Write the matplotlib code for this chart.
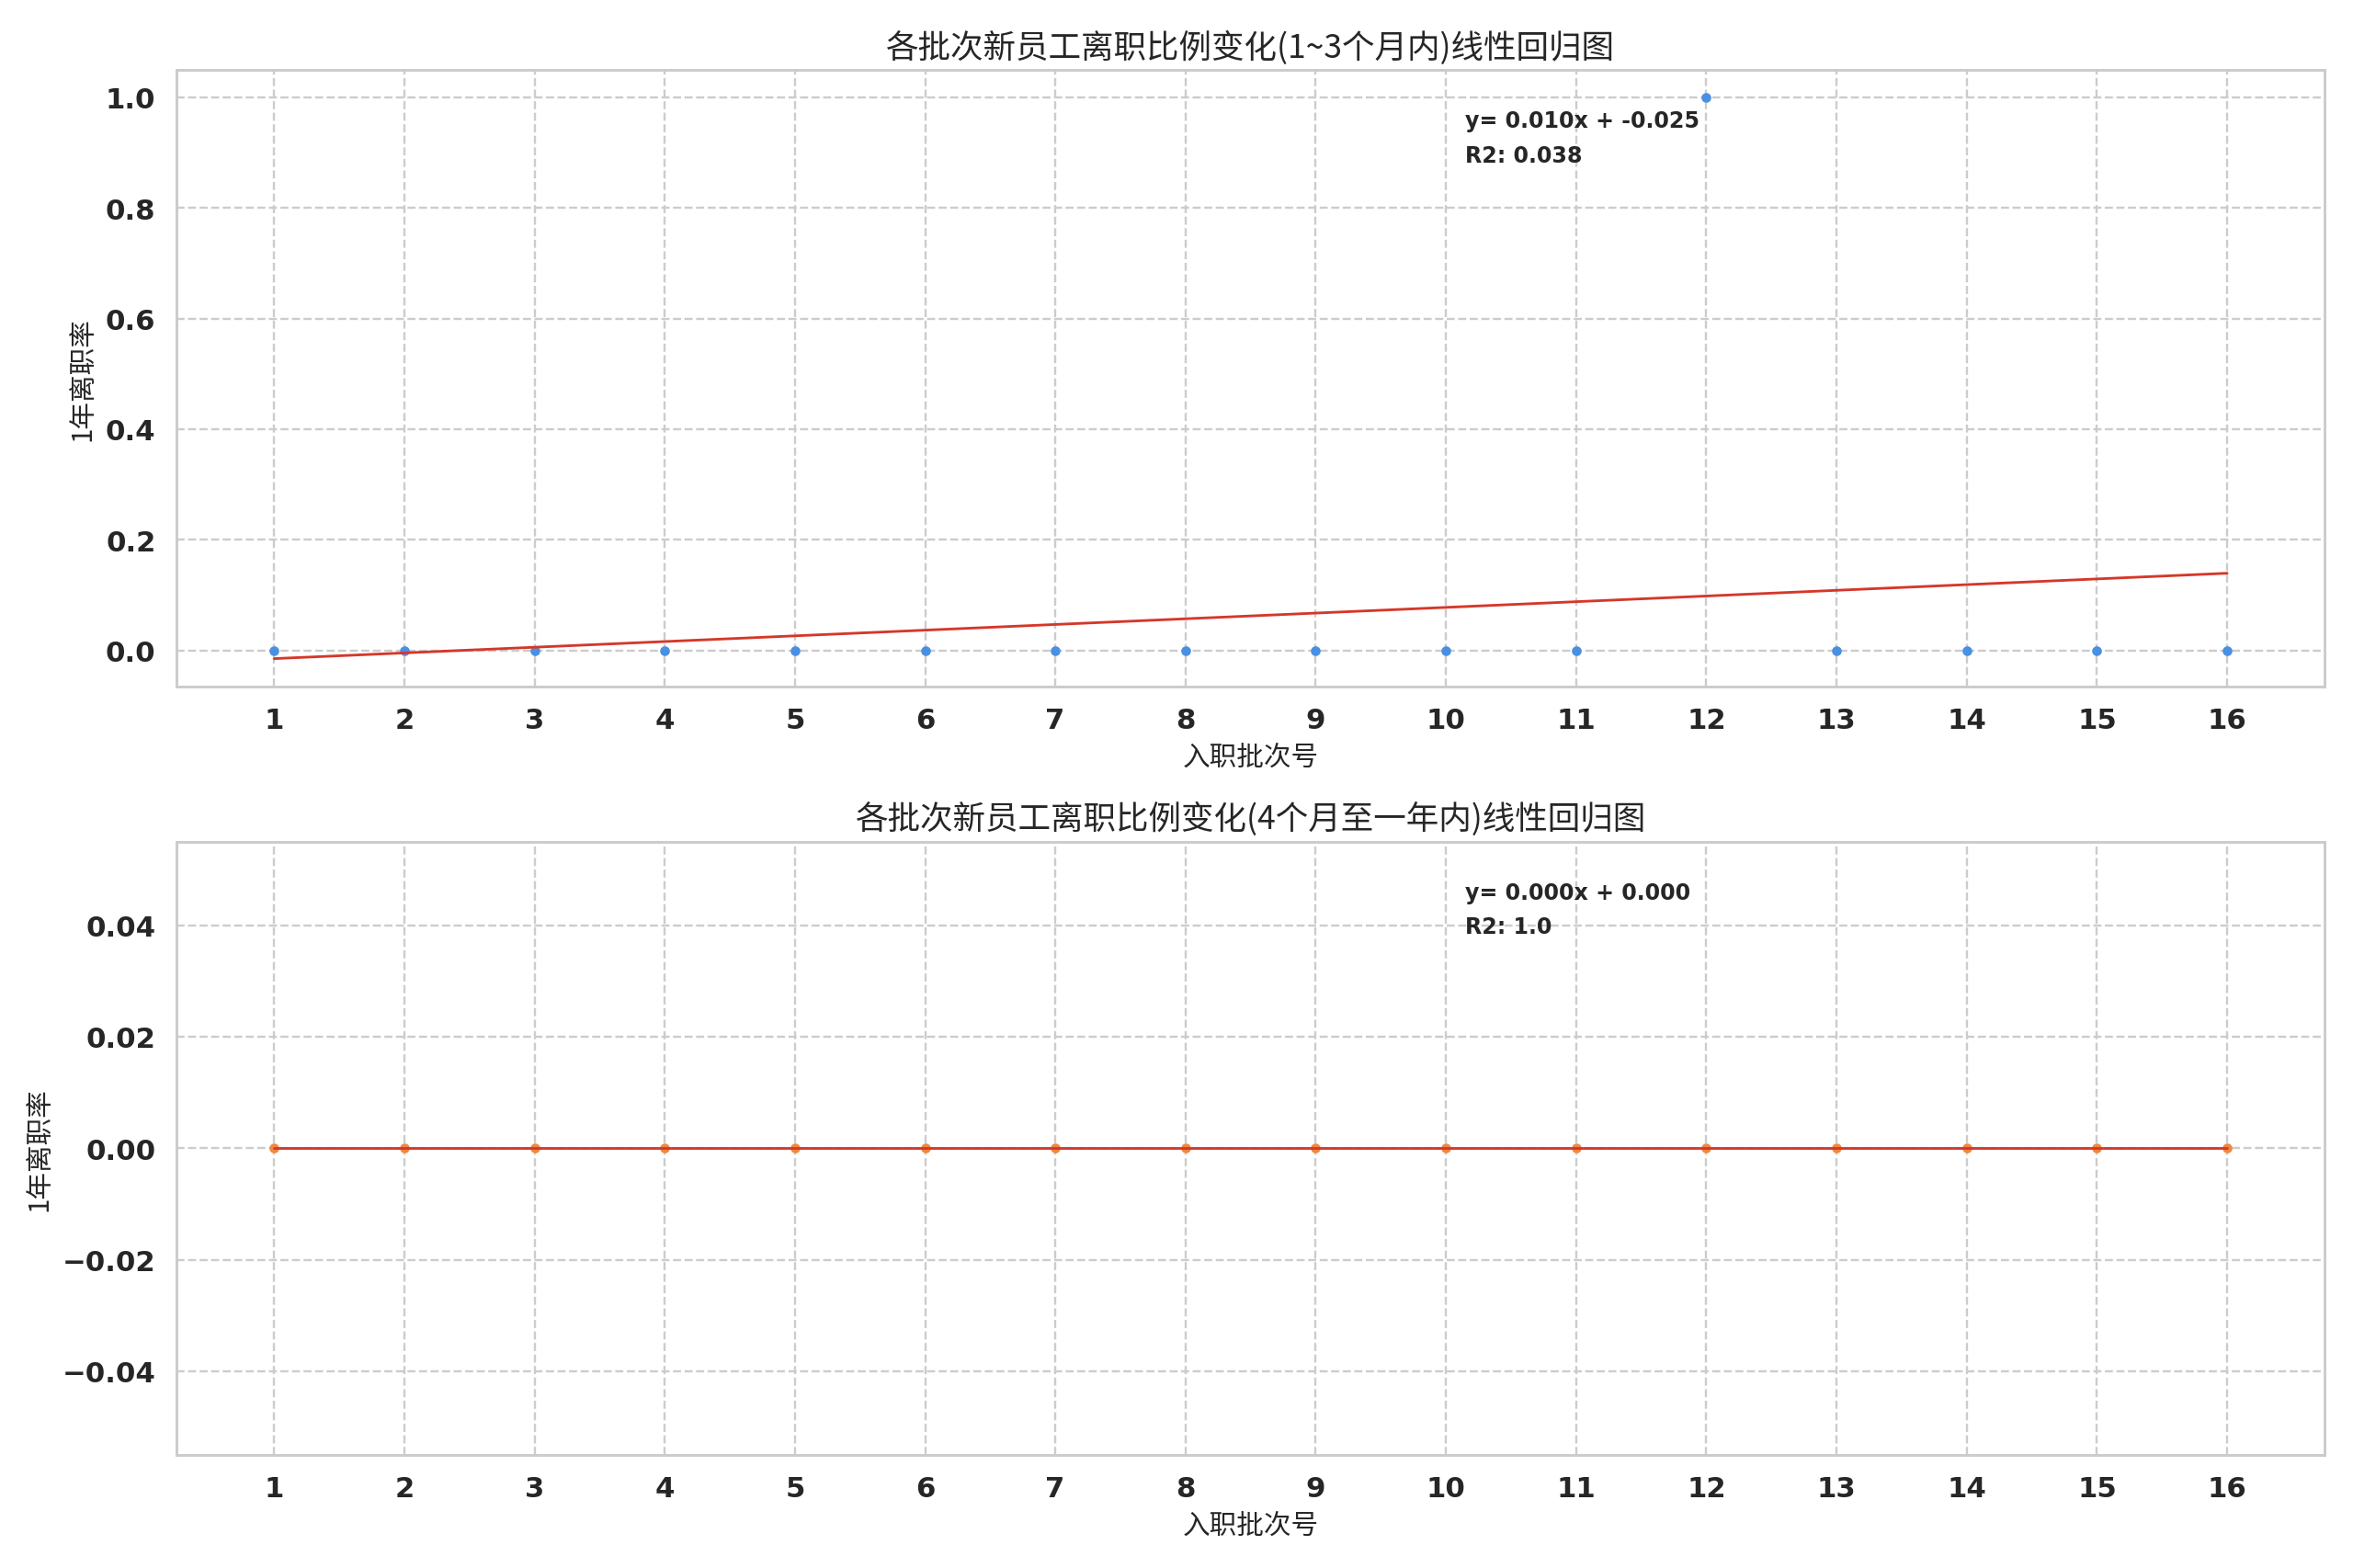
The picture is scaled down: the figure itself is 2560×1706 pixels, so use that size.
import numpy as np
import matplotlib
matplotlib.use("Agg")
import matplotlib.pyplot as plt
import seaborn as sns

# data
batches = list(range(1, 17))
rate_short = [0, 0, 0, 0, 0, 0, 0, 0, 0, 0, 0, 1, 0, 0, 0, 0]
rate_long = [0, 0, 0, 0, 0, 0, 0, 0, 0, 0, 0, 0, 0, 0, 0, 0]
titles = ["各批次新员工离职比例变化(1~3个月内)线性回归图",
          "各批次新员工离职比例变化(4个月至一年内)线性回归图"]
xlabel = "入职批次号"
ylabel = "1年离职率"

sns.set_theme(style="whitegrid")
plt.rcParams['font.family'] = ['Noto Sans CJK SC', 'DejaVu Sans']
plt.rcParams['axes.unicode_minus'] = True


def fit(x, y):
    x = np.asarray(x, float)
    y = np.asarray(y, float)
    slope, intercept = np.polyfit(x, y, 1)
    ss_tot = ((y - y.mean()) ** 2).sum()
    ss_res = ((y - (slope * x + intercept)) ** 2).sum()
    r2 = 1.0 if ss_tot == 0 else 1 - ss_res / ss_tot
    return slope, intercept, r2


fig = plt.figure(figsize=(15, 10), dpi=170.67)
ax1 = fig.add_axes([0.075, 0.562, 0.913, 0.393])
ax2 = fig.add_axes([0.075, 0.072, 0.913, 0.391])

panels = [(ax1, rate_short, '#4a90e2', titles[0], "{:.3f}"),
          (ax2, rate_long, '#f0883e', titles[1], "{:.1f}")]

for ax, vals, col, title, r2fmt in panels:
    slope, intercept, r2 = fit(batches, vals)
    ax.scatter(batches, vals, s=12, color=col, zorder=3)
    xs = np.array(batches, float)
    ax.plot(xs, slope * xs + intercept, color='#d5372a', lw=1.2, zorder=4)
    txt = "y= {:.3f}x + {:.3f}\nR2: {}".format(slope, intercept, r2fmt.format(r2))
    ax.text(0.6, 0.935, txt, transform=ax.transAxes, fontsize=10, fontweight='bold',
            va='top', ha='left', color='#262626', linespacing=1.7,
            family=['DejaVu Sans'])
    ax.set_title(title, fontsize=15, color='#262626')
    ax.set_xlabel(xlabel, fontsize=12.5)
    ax.set_ylabel(ylabel, fontsize=12.5)
    ax.set_xticks(batches)
    ax.set_xlim(0.25, 16.75)
    ax.grid(True, linestyle='--', color='#cccccc', lw=1)

ax1.set_ylim(-0.065, 1.05)
ax1.set_yticks([0.0, 0.2, 0.4, 0.6, 0.8, 1.0])
ax2.set_ylim(-0.055, 0.055)
ax2.set_yticks([-0.04, -0.02, 0.0, 0.02, 0.04])
for ax in (ax1, ax2):
    for lab in ax.get_xticklabels() + ax.get_yticklabels():
        lab.set_fontweight('bold')
        lab.set_fontsize(13)
        lab.set_family(['DejaVu Sans'])

fig.savefig("out.png", dpi=170.67)
